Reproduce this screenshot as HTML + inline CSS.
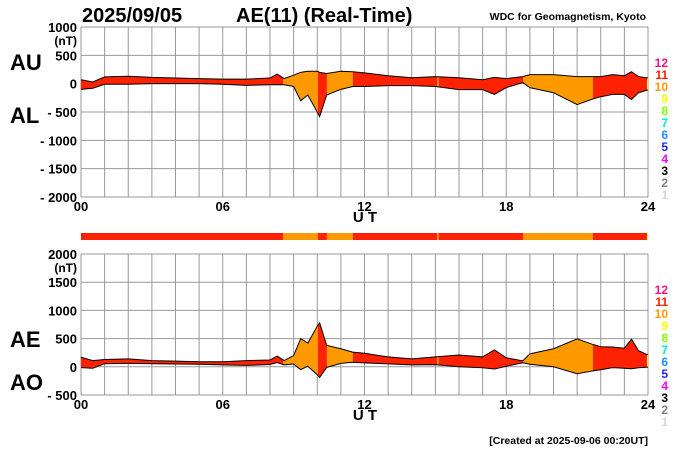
<!DOCTYPE html>
<html><head><meta charset="utf-8"><style>
body{margin:0;background:#fff;}
svg{display:block;font-family:"Liberation Sans",sans-serif;}
</style></head><body>
<svg id="c" width="700" height="450" xmlns="http://www.w3.org/2000/svg">
<text x="82" y="22" font-size="20" font-weight="bold">2025/09/05</text>
<text x="236" y="22" font-size="20" font-weight="bold">AE(11) (Real-Time)</text>
<text x="646" y="20" font-size="10.5" font-weight="bold" text-anchor="end">WDC for Geomagnetism, Kyoto</text>
<text x="10" y="70" font-size="22" font-weight="bold">AU</text>
<text x="10" y="123" font-size="22" font-weight="bold">AL</text>
<text x="10" y="347" font-size="22" font-weight="bold">AE</text>
<text x="10" y="390" font-size="22" font-weight="bold">AO</text>
<text x="648" y="444" font-size="10.5" font-weight="bold" text-anchor="end">[Created at 2025-09-06 00:20UT]</text>
<g id="g"></g>
</svg>
<script>
const times=[0,0.5,1,2,3,4,5,6,7,8,8.3,8.6,9,9.3,9.6,10,10.1,10.4,11,11.5,12,13,14,15,16,17,17.5,18,18.7,19,20,21,21.6,22,22.5,23,23.3,23.6,24];
const au=[70,30,120,130,110,100,90,80,80,100,170,90,150,200,220,220,200,180,220,210,190,140,105,125,105,70,110,90,125,160,160,125,125,125,160,140,210,125,100];
const al=[-100,-80,-10,-10,0,0,0,-10,-30,-20,-20,-20,-50,-300,-200,-500,-580,-200,-100,-50,-50,-35,-35,-50,-105,-105,-190,-70,20,-70,-160,-370,-280,-230,-190,-190,-280,-160,-110];
const segStart=[0,8.55,10.03,10.41,11.51,15.08,15.14,18.71,21.67,23.96];
const segEnd=[8.55,10.03,10.41,11.51,15.08,15.14,18.71,21.67,23.96,24];
const segLevel=[11,10,11,10,11,10,11,10,11,9];
const xTicks=["00","06","12","18","24"];
const topTicks=[1000,500,0,-500,-1000,-1500,-2000];
const botTicks=[2000,1500,1000,500,0,-500];
const levelColors={1:"#d8d8d8",2:"#808080",3:"#000",4:"#ff00ff",5:"#2020ff",6:"#1e90ff",7:"#00e8d0",8:"#80ff00",9:"#ffff00",10:"#ff9900",11:"#ff2200",12:"#ff1080"};
const NS="http://www.w3.org/2000/svg", g=document.getElementById('g');
const X0=81,X1=648;
const x=t=>X0+(X1-X0)*t/24;
function mk(tag,a){const e=document.createElementNS(NS,tag);for(const k in a)e.setAttribute(k,a[k]);g.appendChild(e);return e;}
const ae=au.map((v,i)=>v-al[i]), ao=au.map((v,i)=>(v+al[i])/2);
function panel(yTop,yBot,vmax,vmin,ticks,upper,lower,pre){
  const y=v=>yTop+(vmax-v)*(yBot-yTop)/(vmax-vmin);
  for(let h=0;h<=24;h++){const l=mk('line',{x1:x(h),x2:x(h),y1:yTop,y2:yBot,stroke:'#999','stroke-width':1});
    }
  ticks.forEach(v=>{const l=mk('line',{x1:X0,x2:X1,y1:y(v),y2:y(v),stroke:'#999','stroke-width':1});
    
    const t=mk('text',{x:77,y:y(v)+5,'font-size':13,'font-weight':'bold','text-anchor':'end'});t.textContent=v<0?'- '+(-v):String(v);
    });
  const nt=mk('text',{x:77,y:y(ticks[0])+18,'font-size':12,'font-weight':'bold','text-anchor':'end'});nt.textContent='(nT)';
  
  let pts=times.map((t,i)=>x(t)+','+y(upper[i])).concat(times.slice().reverse().map((t,j)=>{const i=times.length-1-j;return x(t)+','+y(lower[i]);})).join(' ');
  segStart.forEach((s,k)=>{const id=pre+'clip'+k;
    const cp=document.createElementNS(NS,'clipPath');cp.setAttribute('id',id);
    const r=document.createElementNS(NS,'rect');r.setAttribute('x',x(s));r.setAttribute('y',yTop);r.setAttribute('width',x(segEnd[k])-x(s));r.setAttribute('height',yBot-yTop);
    cp.appendChild(r);g.appendChild(cp);
    const p=mk('polygon',{points:pts,fill:levelColors[segLevel[k]],'clip-path':'url(#'+id+')'});
    });
  [upper,lower].forEach((arr,n)=>{const p=mk('polyline',{points:times.map((t,i)=>x(t)+','+y(arr[i])).join(' '),fill:'none',stroke:'#000','stroke-width':1});
    });
  xTicks.forEach((s,i)=>{const t=mk('text',{x:x(i*6),y:yBot+14,'font-size':13,'font-weight':'bold','text-anchor':'middle'});t.textContent=s;
    });
  const ut=mk('text',{x:365,y:yBot+25,'font-size':15,'font-weight':'bold','text-anchor':'middle'});ut.textContent='U T';
  
  for(let L=12;L>=1;L--){const t=mk('text',{x:668,y:yTop+40+(12-L)*12,'font-size':12,'font-weight':'bold','text-anchor':'end',fill:levelColors[L]});t.textContent=L;
    }
}
panel(27,197,1000,-2000,topTicks,au,al,'top');
panel(254,395,2000,-500,botTicks,ae,ao,'bottom');
segStart.forEach((s,k)=>{const r=mk('rect',{x:x(s),y:233,width:x(segEnd[k])-x(s),height:7,fill:levelColors[segLevel[k]]});
  });
</script>
</body></html>
